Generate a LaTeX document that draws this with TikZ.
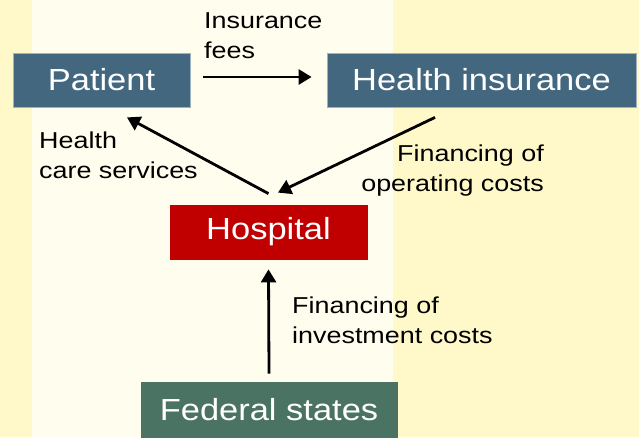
\documentclass[tikz,border=0pt]{standalone}
\usepackage{fontspec}
\setmainfont{Liberation Sans}
\newfontfamily\boxfont[FakeStretch=1.13]{Liberation Sans}
\newfontfamily\labfont[FakeStretch=1.17]{Liberation Sans}
\usetikzlibrary{arrows.meta}
\definecolor{bgyellow}{HTML}{FFF9C9}
\definecolor{bgpanel}{HTML}{FFFEEE}
\definecolor{boxblue}{HTML}{43677F}
\definecolor{boxred}{HTML}{C00000}
\definecolor{boxgreen}{HTML}{4B7364}
\definecolor{boxedge}{HTML}{9DB3C2}
\tikzset{
  entity/.style={draw=boxedge, line width=0.8pt, inner sep=0pt, text=white,
    font=\boxfont\fontsize{30.5}{34}\selectfont},
  flow/.style={line width=2.8pt, -{Triangle[length=13pt,width=15pt]}},
  flowlabel/.style={inner sep=0pt, font=\labfont\fontsize{23}{29.5}\selectfont}
}
\begin{document}
\begin{tikzpicture}[x=1pt,y=-1pt]
\useasboundingbox (0,0) rectangle (639,437);
\fill[bgyellow] (0,0) rectangle (639,437);
\fill[bgpanel] (32,0) rectangle (393,437);

\node[entity, fill=boxblue, minimum width=177pt, minimum height=54pt] (patient) at (101.5,80) {Patient};
\node[entity, fill=boxblue, minimum width=309pt, minimum height=54pt] (insurance) at (481.5,80) {Health insurance};
\node[entity, fill=boxred, draw=boxred, minimum width=197pt, minimum height=54pt] (hospital) at (268.5,232) {Hospital};
\node[entity, fill=boxgreen, draw=boxgreen, minimum width=256pt, minimum height=55pt] (federal) at (269,409.5) {Federal states};

\draw[flow] ([xshift=13pt,yshift=3pt]patient.east) -- ([xshift=-15pt,yshift=3pt]insurance.west);
\draw[flow] ([yshift=11pt]hospital.north) -- ([xshift=25.5pt,yshift=-10pt]patient.south);
\draw[flow] ([xshift=-46.5pt,yshift=-10pt]insurance.south) -- ([xshift=9.5pt,yshift=12pt]hospital.north);
\draw[flow] ([yshift=8pt]federal.north) -- ([yshift=-10pt]hospital.south);

\node[flowlabel, anchor=base west, align=left] (lfees) at (204,58) {Insurance\\fees};
\node[flowlabel, anchor=base west, align=left] (lcare) at (39,178) {Health\\care services};
\node[flowlabel, anchor=base east, align=right] (loper) at (544,191) {Financing of\\operating costs};
\node[flowlabel, anchor=base west, align=left] (linv) at (292,343) {Financing of\\investment costs};
\end{tikzpicture}
\end{document}
